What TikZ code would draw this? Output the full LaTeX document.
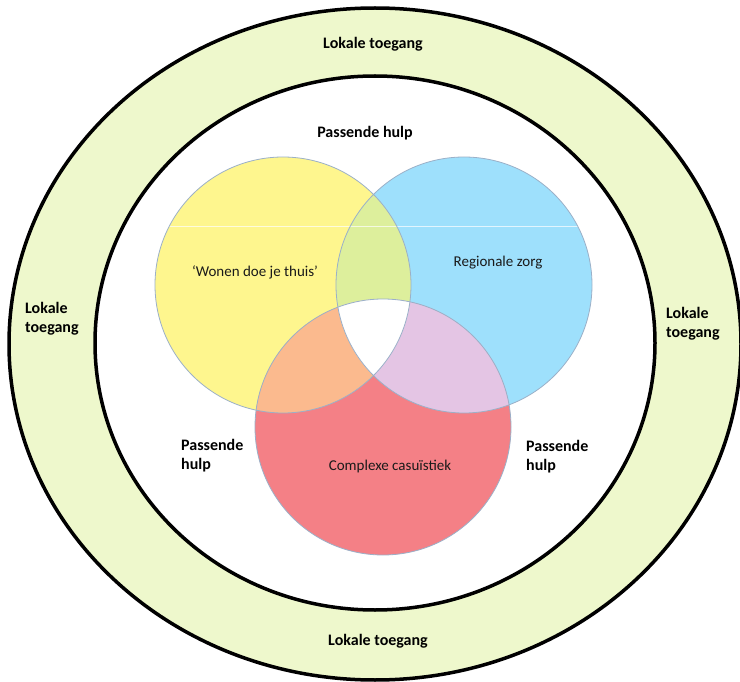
\documentclass[tikz,border=0pt]{standalone}
\usepackage{fontspec}
\setmainfont{Carlito}
\usepackage{xcolor}
\usepackage{tikz}
\usetikzlibrary{positioning}

\definecolor{ringgreen}{HTML}{EEF8CC}
\definecolor{wonenyellow}{HTML}{FEF68E}
\definecolor{regioblue}{HTML}{9EE0FC}
\definecolor{complexred}{HTML}{F48086}
\definecolor{mixlime}{HTML}{DDEF9C}
\definecolor{mixorange}{HTML}{FBBA8E}
\definecolor{mixlilac}{HTML}{E4C5E4}
\definecolor{vennline}{HTML}{9BB0C8}
\definecolor{labeltext}{HTML}{1A1A1A}

\tikzset{
    ring/.style={draw=black,line width=3.5pt},
    venn/.style={draw=vennline,line width=0.8pt},
    boldlabel/.style={font=\fontsize{16}{19}\selectfont\bfseries,text=black,align=left,inner sep=0pt},
    circlelabel/.style={font=\fontsize{15}{19}\selectfont,text=labeltext,inner sep=0pt}
}

\begin{document}
\begin{tikzpicture}[x=1pt,y=-1pt]
    \useasboundingbox (0,0) rectangle (740,682);

    \coordinate (centre) at (375,344);
    \coordinate (wonen) at (283,285);
    \coordinate (regio) at (464,285);
    \coordinate (complex) at (383,427);

    \filldraw[ring,fill=ringgreen] (centre) ellipse (366 and 336);
    \filldraw[ring,fill=white] (375,343) ellipse (280 and 267);

    \fill[wonenyellow] (wonen) circle (128);
    \fill[regioblue] (regio) circle (128);
    \fill[complexred] (complex) circle (128);
    \begin{scope}
        \clip (wonen) circle (128);
        \fill[mixlime] (regio) circle (128);
        \fill[mixorange] (complex) circle (128);
    \end{scope}
    \begin{scope}
        \clip (regio) circle (128);
        \fill[mixlilac] (complex) circle (128);
        \clip (wonen) circle (128);
        \fill[white] (complex) circle (128);
    \end{scope}
    \draw[white,opacity=0.7,line width=0.6pt] (169.4,226) -- (577.6,226);
    \draw[venn] (wonen) circle (128);
    \draw[venn] (regio) circle (128);
    \draw[venn] (complex) circle (128);

    \node[circlelabel] (wonentext) at (255,272) {‘Wonen doe je thuis’};
    \node[circlelabel] (regiotext) at (498,263) {Regionale zorg};
    \node[circlelabel] (complextext) at (390,467) {Complexe casuïstiek};

    \node[boldlabel] (hulptop) at (365,133) {Passende hulp};
    \node[boldlabel,anchor=west] (hulpleft) at (181,456) {Passende\\hulp};
    \node[boldlabel,anchor=west] (hulpright) at (526,457) {Passende\\hulp};

    \node[boldlabel] (toegangtop) at (373,44) {Lokale toegang};
    \node[boldlabel] (toegangbottom) at (378,641) {Lokale toegang};
    \node[boldlabel,anchor=west] (toegangleft) at (25,319) {Lokale\\toegang};
    \node[boldlabel,anchor=west] (toegangright) at (666,324) {Lokale\\toegang};
\end{tikzpicture}
\end{document}
